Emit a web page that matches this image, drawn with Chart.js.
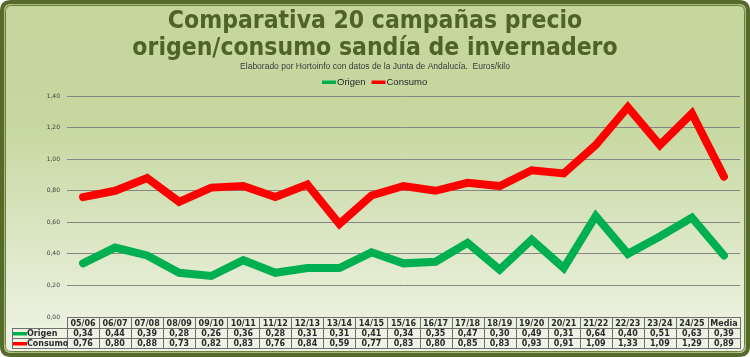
<!DOCTYPE html>
<html>
<head>
<meta charset="utf-8">
<script src="https://cdn.jsdelivr.net/npm/chart.js@4.4.1/dist/chart.umd.min.js"></script>
<style>
html,body{margin:0;padding:0;background:#ffffff;}
canvas{display:block;}
</style>
</head>
<body>
<canvas id="c" width="750" height="357"></canvas>
<script>
const campaigns = ['05/06','06/07','07/08','08/09','09/10','10/11','11/12','12/13','13/14','14/15','15/16','16/17','17/18','18/19','19/20','20/21','21/22','22/23','23/24','24/25','Media'];
const origen  = [0.34,0.44,0.39,0.28,0.26,0.36,0.28,0.31,0.31,0.41,0.34,0.35,0.47,0.30,0.49,0.31,0.64,0.40,0.51,0.63,0.39];
const consumo = [0.76,0.80,0.88,0.73,0.82,0.83,0.76,0.84,0.59,0.77,0.83,0.80,0.85,0.83,0.93,0.91,1.09,1.33,1.09,1.29,0.89];
const yTicks = [0,0.2,0.4,0.6,0.8,1.0,1.2,1.4];
const titleLines = ['Comparativa 20 campañas precio','origen/consumo sandía de invernadero'];
const subtitleText = 'Elaborado por Hortoinfo con datos de la Junta de Andalucía.  Euros/kilo';
const seriesNames = ['Origen','Consumo'];

const GREEN = '#00b050', RED = '#ff0000';
const fmt = v => v.toFixed(2).replace('.', ',');

function roundRect(ctx, x, y, w, h, r){
  ctx.beginPath();
  ctx.moveTo(x+r,y);
  ctx.lineTo(x+w-r,y); ctx.quadraticCurveTo(x+w,y,x+w,y+r);
  ctx.lineTo(x+w,y+h-r); ctx.quadraticCurveTo(x+w,y+h,x+w-r,y+h);
  ctx.lineTo(x+r,y+h); ctx.quadraticCurveTo(x,y+h,x,y+h-r);
  ctx.lineTo(x,y+r); ctx.quadraticCurveTo(x,y,x+r,y);
  ctx.closePath();
}

const bgPlugin = {
  id:'bg',
  beforeDraw(chart){
    const {ctx,width,height} = chart;
    ctx.save();
    ctx.fillStyle = '#ffffff';
    ctx.fillRect(0,0,width,height);
    const g = ctx.createLinearGradient(0,0,0,height);
    g.addColorStop(0,'#c4d69c');
    g.addColorStop(0.35,'#c6d8a0');
    g.addColorStop(1,'#f2f5ea');
    roundRect(ctx,2,2,width-4,height-4,9);
    ctx.fillStyle = g;
    ctx.fill();
    ctx.restore();
  },
  afterDraw(chart){
    const {ctx,width,height} = chart;
    ctx.save();
    ctx.lineWidth = 4;
    ctx.strokeStyle = '#566b2b';
    roundRect(ctx,2,2,width-4,height-4,9);
    ctx.stroke();
    ctx.lineWidth = 1;
    ctx.strokeStyle = '#a8ba7c';
    roundRect(ctx,4.5,4.5,width-9,height-9,7);
    ctx.stroke();
    ctx.strokeStyle = '#6b7f3a';
    roundRect(ctx,5.5,5.5,width-11,height-11,6);
    ctx.stroke();
    ctx.restore();
  }
};

// Legend drawn as a compact Excel-style key (line marker + text)
const legendPlugin = {
  id:'keyLegend',
  afterDraw(chart){
    const {ctx} = chart;
    ctx.save();
    ctx.font = '9.5px "Liberation Sans Narrow","Liberation Sans"';
    ctx.textBaseline = 'middle';
    ctx.textAlign = 'left';
    const items = chart.data.datasets.map(d=>({c:d.borderColor,t:d.label}));
    const mk = 14, gap1 = 1, gap2 = 6;
    let total = 0;
    items.forEach((it,i)=>{ total += mk + gap1 + ctx.measureText(it.t).width + (i<items.length-1?gap2:0); });
    let x = Math.round(375 - total/2);
    const cy = 82;
    items.forEach(it=>{
      ctx.fillStyle = it.c;
      ctx.fillRect(x, cy-1.5, mk, 3.5);
      x += mk + gap1;
      ctx.fillStyle = '#262626';
      ctx.fillText(it.t, x, cy);
      x += ctx.measureText(it.t).width + gap2;
    });
    ctx.restore();
  }
};

const tablePlugin = {
  id:'table',
  afterDatasetsDraw(chart){
    const {ctx} = chart;
    const xs = chart.scales.x;
    const area = chart.chartArea;
    const n = campaigns.length;
    const colW = (area.right - area.left)/n;
    const top = Math.round(area.bottom);
    const rows = [top, top+11, top+21, top+31];
    const legL = 12;
    ctx.save();
    ctx.strokeStyle = '#6e6e6e';
    ctx.lineWidth = 1;
    const hl = (x1,x2,y)=>{ctx.beginPath();ctx.moveTo(x1,y+0.5);ctx.lineTo(x2,y+0.5);ctx.stroke();};
    const vl = (x,y1,y2)=>{ctx.beginPath();ctx.moveTo(x+0.5,y1);ctx.lineTo(x+0.5,y2);ctx.stroke();};
    hl(area.left, area.right, rows[0]);
    hl(legL, area.right, rows[1]);
    hl(legL, area.right, rows[2]);
    hl(legL, area.right, rows[3]);
    vl(legL, rows[1], rows[3]+1);
    for(let i=0;i<=n;i++){
      const x = Math.min(Math.round(area.left + i*colW), Math.round(area.right));
      vl(x, rows[0], rows[3]+1);
    }
    ctx.textAlign='center';
    ctx.textBaseline='middle';
    ctx.font = 'bold 8px "DejaVu Sans"';
    ctx.fillStyle = '#2b2b2b';
    for(let i=0;i<n;i++){
      const cx = xs.getPixelForValue(i);
      ctx.fillText(campaigns[i], cx, (rows[0]+rows[1])/2+1);
      ctx.fillText(fmt(origen[i]), cx, (rows[1]+rows[2])/2+1);
      ctx.fillText(fmt(consumo[i]), cx, (rows[2]+rows[3])/2+1);
    }
    const keys = [[GREEN, seriesNames[0]],[RED, seriesNames[1]]];
    keys.forEach((k,j)=>{
      const cy = (rows[1+j]+rows[2+j])/2 + 0.5;
      ctx.fillStyle = k[0];
      ctx.fillRect(legL+1, cy-1.5, 14, 3.5);
      ctx.fillStyle = '#2b2b2b';
      ctx.textAlign='left';
      ctx.fillText(k[1], legL+15, cy+0.5);
    });
    ctx.restore();
  }
};

new Chart(document.getElementById('c'), {
  type:'line',
  data:{
    labels: campaigns,
    datasets:[
      {label:seriesNames[0], data:origen, borderColor:GREEN, backgroundColor:GREEN, borderWidth:8, pointRadius:0, tension:0, borderJoinStyle:'miter', borderCapStyle:'round'},
      {label:seriesNames[1], data:consumo, borderColor:RED, backgroundColor:RED, borderWidth:8, pointRadius:0, tension:0, borderJoinStyle:'miter', borderCapStyle:'round'}
    ]
  },
  options:{
    responsive:false,
    devicePixelRatio:1,
    animation:false,
    layout:{padding:{left:10,right:10,top:0,bottom:40}},
    plugins:{
      title:{display:true,text:titleLines,color:'#4f6228',font:{family:'"DejaVu Sans Condensed","DejaVu Sans"',size:24.5,weight:'bold',lineHeight:1.1},padding:{top:8,bottom:0}},
      subtitle:{display:true,text:subtitleText,color:'#3a3a3a',font:{family:'"Liberation Sans Narrow","Liberation Sans"',size:8.5,lineHeight:1.2},padding:{top:0,bottom:24}},
      legend:{display:false},
      tooltip:{enabled:false}
    },
    scales:{
      x:{display:false,offset:true,grid:{display:false}},
      y:{
        min:0,max:1.4,
        afterBuildTicks(s){ s.ticks = yTicks.map(v=>({value:v})); },
        afterFit(s){ s.width = 57; },
        border:{display:false},
        grid:{color:'#868686',lineWidth:1,drawTicks:false},
        ticks:{padding:7,color:'#404040',font:{family:'"DejaVu Sans"',size:6},callback:v=>fmt(v)}
      }
    }
  },
  plugins:[bgPlugin,tablePlugin,legendPlugin]
});
</script>
</body>
</html>
